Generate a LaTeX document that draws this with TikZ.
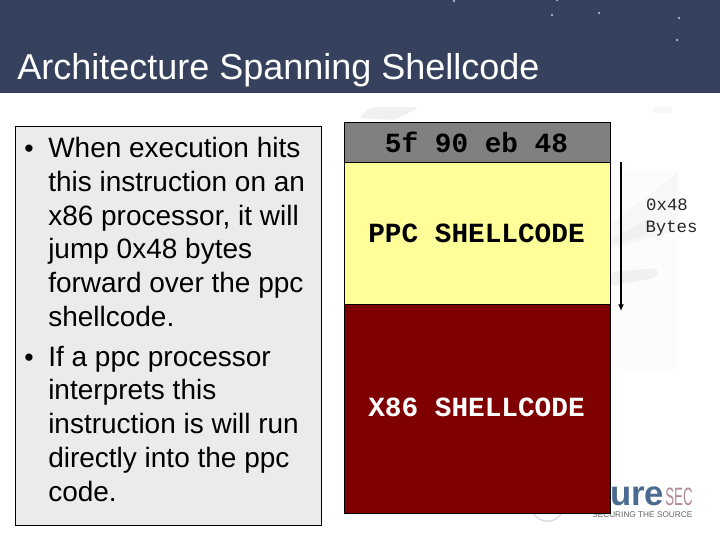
\documentclass[tikz,border=0pt]{standalone}
\usepackage{fontspec}
\usetikzlibrary{arrows.meta}
\setmainfont{Liberation Sans}
\setmonofont{Liberation Mono}
\definecolor{banner}{HTML}{36415E}
\definecolor{panelgray}{HTML}{EBEBEB}
\definecolor{headgray}{HTML}{808080}
\definecolor{ppcyellow}{HTML}{FFFF99}
\definecolor{xdarkred}{HTML}{7F0000}
\definecolor{logoblue}{HTML}{4A6A8F}
\definecolor{logored}{HTML}{B58A96}
\tikzset{
  x=0.75pt,y=-0.75pt,
  cell/.style={draw=black,line width=0.75pt,minimum width=265.5*0.75pt,inner sep=0pt,anchor=north west},
  codetext/.style={font=\fontsize{20.8}{24}\ttfamily\bfseries},
  labeltext/.style={anchor=base,inner sep=0pt,font=\fontsize{13}{16}\ttfamily,text=black!85},
  star/.style={fill=white!75!banner,draw=none,circle,minimum size=1.6pt,inner sep=0pt},
  smudge/.style={fill=black!6,draw=none,rounded corners=4pt}
}
\begin{document}
\begin{tikzpicture}
\useasboundingbox (0,0) rectangle (720,540);
\fill[white] (0,0) rectangle (720,540);
% faint watermark
\fill[black!1.2] (610,170) rectangle (678,370);
\fill[smudge] (358,118) -- (372,107) -- (420,107) -- (395,120) -- cycle;
\fill[black!3] (653,107) rectangle (672,113);
\fill[black!3] (610,225) -- (678,172) -- (678,230) -- (610,250) -- cycle;
\fill[smudge] (610,240) -- (650,218) -- (650,234) -- (610,246) -- cycle;
\fill[smudge] (610,272) -- (658,268) -- (658,277) -- (610,286) -- cycle;
% banner
\fill[banner] (0,0) rectangle (720,93);
\node[star] (s1) at (454,1) {};
\node[star] (s6) at (557,0) {};
\node[star] (s2) at (552,15) {};
\node[star] (s3) at (599,13) {};
\node[star] (s4) at (679,18) {};
\node[star] (s5) at (677,40) {};
\node[anchor=base west,inner sep=0pt,text=white,font=\fontsize{27}{30}\selectfont] (title) at (17,79) {Architecture Spanning Shellcode};
% left panel
\node[draw=black,line width=0.75pt,fill=panelgray,anchor=north west,inner sep=0pt,minimum width=306*0.75pt,minimum height=399*0.75pt] (panel) at (15,126) {};
\node[anchor=north west,inner sep=0pt,align=left,text=black,font=\fontsize{21}{25.3}\selectfont] (bodytext) at (24,137) {\makebox[18pt][l]{\fontsize{20}{20}\selectfont •}When execution hits\\
\hspace*{18pt}this instruction on an\\
\hspace*{18pt}x86 processor, it will\\
\hspace*{18pt}jump 0x48 bytes\\
\hspace*{18pt}forward over the ppc\\
\hspace*{18pt}shellcode.\\[4.6pt]
\makebox[18pt][l]{\fontsize{20}{20}\selectfont •}If a ppc processor\\
\hspace*{18pt}interprets this\\
\hspace*{18pt}instruction is will run\\
\hspace*{18pt}directly into the ppc\\
\hspace*{18pt}code.};
% logo
\node[anchor=base west,inner sep=0pt,text=logoblue,font=\fontsize{26}{28}\bfseries] (logoa) at (610,505) {ure};
\node[anchor=base west,inner sep=0pt,text=logored,font=\fontsize{18.8}{22}\selectfont] (logob) at (665,505) {\scalebox{0.53}[1]{SEC}};
\node[anchor=base west,inner sep=0pt,text=black!60,font=\fontsize{6.2}{8}\selectfont] (logoc) at (592,517) {SECURING THE SOURCE};
\draw[black!15,line width=1pt] (532,510) .. controls (537,525) and (558,525) .. (563,510);
% cells
\node[cell,fill=headgray,minimum height=40*0.75pt] (head) at (344,122) {};
\node[cell,fill=ppcyellow,minimum height=142*0.75pt] (ppc) at (344,162) {};
\node[cell,fill=xdarkred,minimum height=209*0.75pt] (xeightsix) at (344,304) {};
\node[codetext,text=black] (headtxt) at (476.5,142) {5f 90 eb 48};
\node[codetext,text=black] (ppctxt) at (476.5,233) {PPC SHELLCODE};
\node[codetext,text=white] (xtxt) at (476.5,407.5) {X86 SHELLCODE};
% span arrow
\coordinate (spantop) at (621,162);
\coordinate (spanbot) at (621,311);
\draw[-{Latex[length=5pt,width=4.5pt]},line width=1pt,black] (spantop) -- (spanbot);
% span label
\node[labeltext] (lab1) at (667,210) {0x48};
\node[labeltext] (lab2) at (671.5,232) {Bytes};
\end{tikzpicture}
\end{document}
